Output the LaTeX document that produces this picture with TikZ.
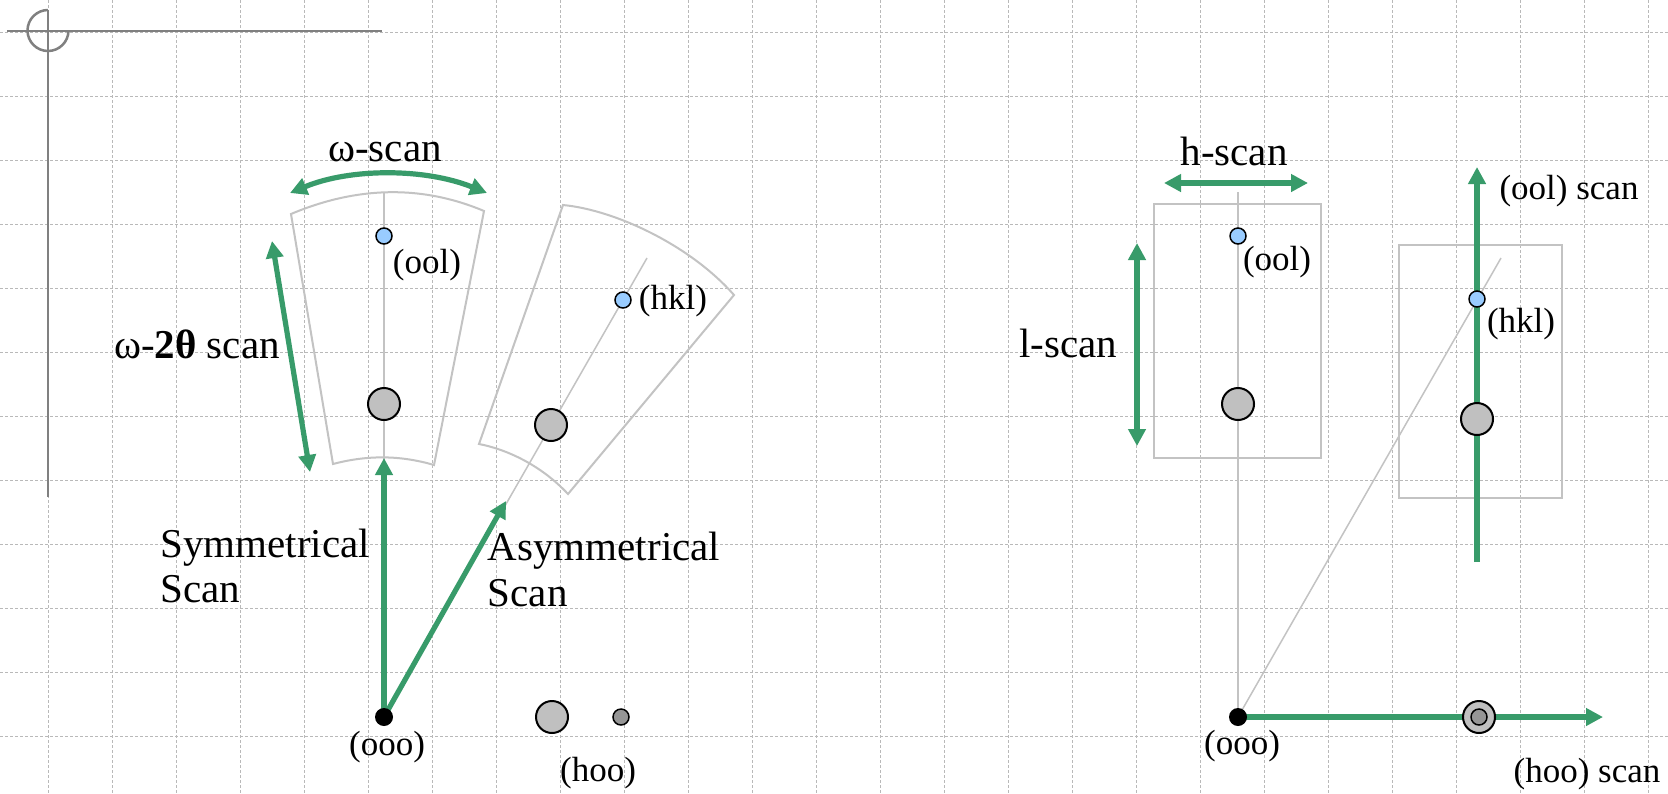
\documentclass[tikz,border=0pt]{standalone}
\usepackage{fontspec}
\setmainfont{Liberation Serif}
\newfontfamily\labelface{Liberation Serif}
\usetikzlibrary{arrows.meta}
\definecolor{scangreen}{RGB}{56,155,106}
\definecolor{dotblue}{RGB}{153,204,255}
\definecolor{spotgrey}{RGB}{192,192,192}
\definecolor{spotdark}{RGB}{150,150,150}
\definecolor{boxgrey}{RGB}{195,195,195}
\definecolor{gridgrey}{RGB}{185,185,185}
\definecolor{axisgrey}{RGB}{128,128,128}
\begin{document}
\begin{tikzpicture}[x=0.5pt,y=-0.5pt,
  gridline/.style={draw=gridgrey, line width=0.5pt, dash pattern=on 1.5pt off 1pt},
  axisline/.style={draw=axisgrey, line width=1.25pt},
  boxline/.style={draw=boxgrey, line width=1pt},
  rayline/.style={draw=boxgrey, line width=0.75pt},
  scanarrow/.style={draw=scangreen, line width=2.6pt, -{Triangle[length=8.5pt,width=8.5pt]}},
  scandouble/.style={draw=scangreen, line width=2.6pt, {Triangle[length=8.5pt,width=8.5pt]}-{Triangle[length=8.5pt,width=8.5pt]}},
  origindot/.style={circle, fill=black, inner sep=0pt, minimum size=9pt},
  refldot/.style={circle, draw=black, line width=0.75pt, fill=dotblue, inner sep=0pt, minimum size=8pt},
  bigspot/.style={circle, draw=black, line width=1pt, fill=spotgrey, inner sep=0pt, minimum size=16pt},
  smallspot/.style={circle, draw=black, line width=0.75pt, fill=spotdark, inner sep=0pt, minimum size=8pt},
  biglabel/.style={inner sep=0pt, font=\labelface\fontsize{20.5}{24}\selectfont},
  smalllabel/.style={inner sep=0pt, font=\labelface\fontsize{17.5}{21}\selectfont},
]
\useasboundingbox (0,0) rectangle (1668,793);
\fill[white] (0,0) rectangle (1668,793);

% background grid
\foreach \i in {0,...,25} \draw[gridline] (48+64*\i,0) -- (48+64*\i,793);
\foreach \j in {0,...,11} \draw[gridline] (0,32.5+64*\j) -- (1668,32.5+64*\j);

% top-left axis mark
\draw[axisline] (7,31) -- (382,31);
\draw[axisline] (48,10) -- (48,497);
\draw[axisline] (48,10) .. controls (36.7,10) and (27.5,19.2) .. (27.5,30.5)
  .. controls (27.5,41.8) and (36.7,51) .. (48,51)
  .. controls (59.3,51) and (68.5,41.8) .. (68.5,30.5);

% ================= left: angular scans =================
\coordinate (O1c) at (384,717);
\coordinate (S1top) at (384,458);
\coordinate (S1end) at (384,192);
\coordinate (A1tip) at (506,501);
\coordinate (A1end) at (647,258);
\coordinate (W1) at (290,193);
\coordinate (W2) at (487,193);
\coordinate (T1) at (272,241);
\coordinate (T2) at (310,472);

% symmetric sector
\draw[boxline] (291,214) .. controls (355,187) and (420,184) .. (484,211)
  -- (434,465) .. controls (400,455) and (367,455) .. (333,464) -- cycle;
% asymmetric sector
\draw[boxline] (563,205) .. controls (615,210) and (690,245) .. (734,295)
  -- (568,494) .. controls (540,464) and (505,449) .. (479,444) -- cycle;

\draw[rayline] (O1c) -- (S1end);
\draw[rayline] (O1c) -- (A1end);

\draw[scanarrow] (O1c) -- (S1top);
\draw[scanarrow] (O1c) -- (A1tip);
\draw[scandouble] (W1) .. controls (350,168) and (425,168) .. (W2);
\draw[scandouble] (T1) -- (T2);

\node[origindot] (O1) at (O1c) {};
\node[refldot] (B1) at (384,236) {};
\node[bigspot] (G1) at (384,404) {};
\node[refldot] (B2) at (623,300) {};
\node[bigspot] (G2) at (551,425) {};
\node[bigspot] (H1) at (552,717) {};
\node[smallspot] (H2) at (621,717) {};

\node[smalllabel] (L1) at (427,265.5) {(ool)};
\node[smalllabel] (L2) at (673,301.5) {(hkl)};
\node[smalllabel] (L3) at (387,747.5) {(ooo)};
\node[smalllabel] (L4) at (598,773.5) {(hoo)};
\node[biglabel] (L5) at (385,152) {ω-scan};
\node[biglabel, anchor=base] (L6) at (197,358) {ω-\textbf{2θ} scan};
\node[biglabel, anchor=base west] (L7) at (160,557) {Symmetrical};
\node[biglabel, anchor=base west] (L8) at (160,602) {Scan};
\node[biglabel, anchor=base west] (L9) at (487.5,560) {Asymmetrical};
\node[biglabel, anchor=base west] (L10) at (487.5,606) {Scan};

% ================= right: reciprocal-space scans =================
\coordinate (O2c) at (1238,717);
\coordinate (R1end) at (1238,192);
\coordinate (R2end) at (1501,258);
\coordinate (Hx) at (1603,717);
\coordinate (Vlo) at (1477,562);
\coordinate (Vhi) at (1477,167);
\coordinate (La) at (1137,243);
\coordinate (Lb) at (1137,446);
\coordinate (Ha) at (1164,183);
\coordinate (Hb) at (1308,183);

\draw[boxline] (1154,204) rectangle (1321,458);
\draw[boxline] (1399,245) rectangle (1562,498);

\draw[rayline] (O2c) -- (R1end);
\draw[rayline] (O2c) -- (R2end);

\draw[scanarrow] (O2c) -- (Hx);
\draw[scanarrow] (Vlo) -- (Vhi);
\draw[scandouble] (La) -- (Lb);
\draw[scandouble] (Ha) -- (Hb);

\node[origindot] (O2) at (O2c) {};
\node[refldot] (B3) at (1238,236) {};
\node[bigspot] (G3) at (1238,404) {};
\node[refldot] (B4) at (1477,299) {};
\node[bigspot] (G4) at (1477,419) {};
\node[bigspot] (H3) at (1479,717) {};
\node[smallspot] (H4) at (1479,717) {};

\node[smalllabel] (M1) at (1277,262.5) {(ool)};
\node[smalllabel] (M2) at (1521,324) {(hkl)};
\node[smalllabel] (M3) at (1242,746) {(ooo)};
\node[smalllabel] (M4) at (1587,774) {(hoo) scan};
\node[smalllabel] (M5) at (1569,191.5) {(ool) scan};
\node[biglabel] (M6) at (1234,151.5) {h-scan};
\node[biglabel] (M7) at (1068,343) {l-scan};
\end{tikzpicture}
\end{document}
